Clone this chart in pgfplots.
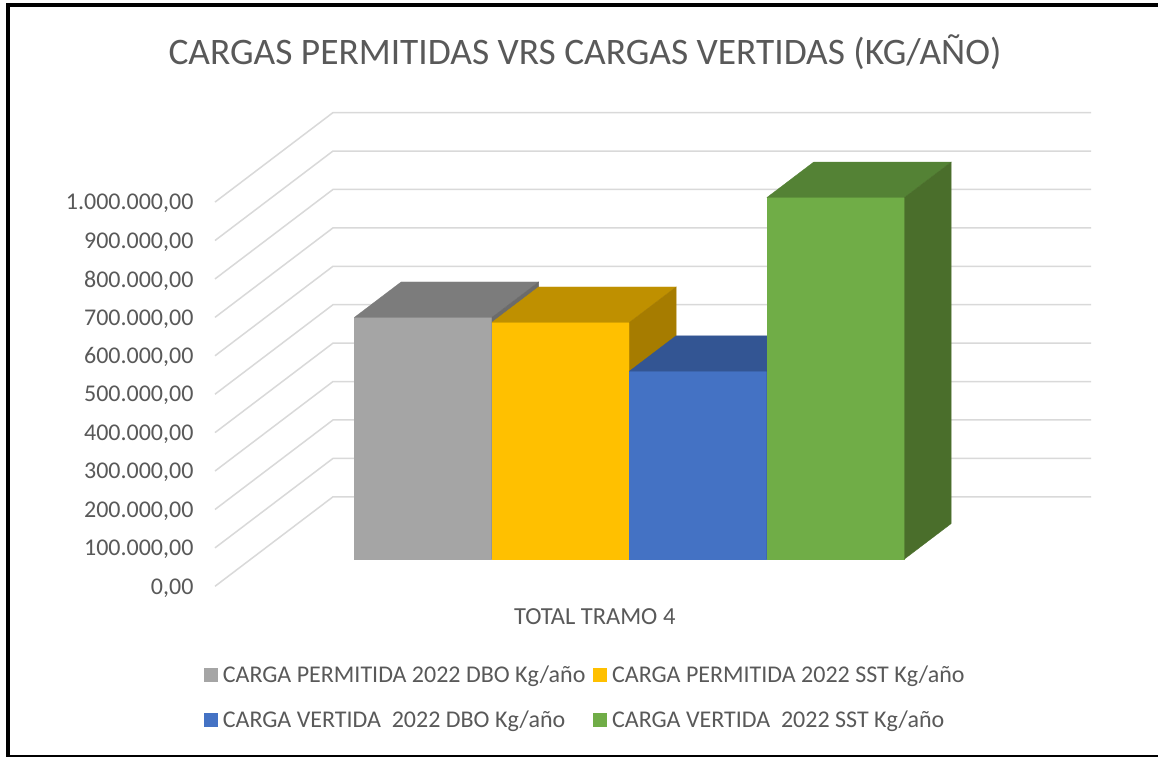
\documentclass[border=0pt]{standalone}
\usepackage{fontspec}
\setmainfont{Carlito}
\usepackage{pgfplots}
\pgfplotsset{compat=1.18}
\definecolor{txt}{HTML}{595959}
\definecolor{gridc}{HTML}{D9D9D9}
\definecolor{gF}{HTML}{A5A5A5}\definecolor{gT}{HTML}{7C7C7C}\definecolor{gS}{HTML}{6B6B6B}
\definecolor{yF}{HTML}{FFC000}\definecolor{yT}{HTML}{BF9000}\definecolor{yS}{HTML}{A67C00}
\definecolor{bF}{HTML}{4472C4}\definecolor{bT}{HTML}{335593}\definecolor{bS}{HTML}{2C4A80}
\definecolor{vF}{HTML}{70AD47}\definecolor{vT}{HTML}{548235}\definecolor{vS}{HTML}{4A6E2B}
\begin{document}
\begin{tikzpicture}
\path[use as bounding box] (0pt,0pt) rectangle (1158pt,757pt);
\fill[white] (0pt,0pt) rectangle (1158pt,757pt);
\begin{axis}[
  at={(215pt,170.7pt)}, anchor=origin,
  x={(1pt,0pt)}, y={(118pt,89.5pt)}, z={(0pt,0.3842pt)},
  xmin=0, xmax=758, ymin=0, ymax=1, zmin=0, zmax=1000,
  clip=false,
  axis line style={draw=none},
  tick style={draw=none},
  grid=none,
  ytick=\empty,
  xtick={385.5},
  xticklabels={TOTAL TRAMO 4},
  xticklabel style={font=\fontsize{24.5pt}{28pt}\selectfont, text=txt, yshift=-19pt},
  ztick={0,100,200,300,400,500,600,700,800,900,1000},
  zticklabels={{0,00},{100.000,00},{200.000,00},{300.000,00},{400.000,00},{500.000,00},{600.000,00},{700.000,00},{800.000,00},{900.000,00},{1.000.000,00}},
  zticklabel style={font=\fontsize{24pt}{26pt}\selectfont, text=txt, anchor=east, xshift=-18pt, yshift=-1.5pt},
  legend columns=2,
  legend cell align=left,
  legend style={at={(axis cs:-11,0,-200)}, anchor=north west, draw=none, fill=none,
    font=\fontsize{24pt}{28pt}\selectfont, text=txt, inner sep=0pt,
    /tikz/row sep=23pt, /tikz/every even column/.append style={column sep=6pt}},
  legend image code/.code={\fill[#1] (0pt,-6.5pt) rectangle (13pt,6.5pt);\path[draw=none,fill=none] (0pt,0pt) -- (16.5pt,0pt);},
]
% walls
\foreach \z in {0,100,...,1000}{
  \edef\tmp{\noexpand\addplot3[gridc, line width=1.5pt, no marks, forget plot] coordinates {(0,0,\z)(0,1,\z)(758,1,\z)};}
  \tmp
}
% grey bar
\addplot3[fill=gF, draw=gF, line width=0.3pt, no marks] coordinates {(103.5,0.305,0)(241,0.305,0)(241,0.305,629)(103.5,0.305,629)} --cycle;
\addlegendentry{CARGA PERMITIDA 2022 DBO Kg/año}
\addplot3[fill=gT, draw=gT, line width=0.3pt, no marks, forget plot] coordinates {(103.5,0.305,629)(241,0.305,629)(241,0.70,629)(103.5,0.70,629)} --cycle;
\addplot3[fill=gS, draw=gS, line width=0.3pt, no marks, forget plot] coordinates {(241,0.305,0)(241,0.70,0)(241,0.70,629)(241,0.305,629)} --cycle;
% yellow bar
\addplot3[fill=yF, draw=yF, line width=0.3pt, no marks] coordinates {(241,0.305,0)(378.5,0.305,0)(378.5,0.305,616)(241,0.305,616)} --cycle;
\addlegendentry{CARGA PERMITIDA 2022 SST Kg/año}
\addplot3[fill=yT, draw=yT, line width=0.3pt, no marks, forget plot] coordinates {(241,0.305,616)(378.5,0.305,616)(378.5,0.70,616)(241,0.70,616)} --cycle;
\addplot3[fill=yS, draw=yS, line width=0.3pt, no marks, forget plot] coordinates {(378.5,0.305,0)(378.5,0.70,0)(378.5,0.70,616)(378.5,0.305,616)} --cycle;
% blue bar
\addplot3[fill=bF, draw=bF, line width=0.3pt, no marks] coordinates {(378.5,0.305,0)(516,0.305,0)(516,0.305,489)(378.5,0.305,489)} --cycle;
\addlegendentry{CARGA VERTIDA\ \ 2022 DBO Kg/año}
\addplot3[fill=bT, draw=bT, line width=0.3pt, no marks, forget plot] coordinates {(378.5,0.305,489)(516,0.305,489)(516,0.70,489)(378.5,0.70,489)} --cycle;
\addplot3[fill=bS, draw=bS, line width=0.3pt, no marks, forget plot] coordinates {(516,0.305,0)(516,0.70,0)(516,0.70,489)(516,0.305,489)} --cycle;
% green bar
\addplot3[fill=vF, draw=vF, line width=0.3pt, no marks] coordinates {(516,0.305,0)(653.5,0.305,0)(653.5,0.305,941)(516,0.305,941)} --cycle;
\addlegendentry{CARGA VERTIDA\ \ 2022 SST Kg/año}
\addplot3[fill=vT, draw=vT, line width=0.3pt, no marks, forget plot] coordinates {(516,0.305,941)(653.5,0.305,941)(653.5,0.70,941)(516,0.70,941)} --cycle;
\addplot3[fill=vS, draw=vS, line width=0.3pt, no marks, forget plot] coordinates {(653.5,0.305,0)(653.5,0.70,0)(653.5,0.70,941)(653.5,0.305,941)} --cycle;
\end{axis}
\node[text=txt, font=\fontsize{37.4pt}{44pt}\selectfont, anchor=center] at (585pt,704.5pt) {CARGAS PERMITIDAS VRS CARGAS VERTIDAS (KG/AÑO)};
% frame
\fill[black] (6pt,0pt) rectangle (10pt,754pt);
\fill[black] (6pt,750pt) rectangle (1158pt,754pt);
\fill[black] (6pt,0pt) rectangle (1158pt,2.5pt);
\end{tikzpicture}
\end{document}
